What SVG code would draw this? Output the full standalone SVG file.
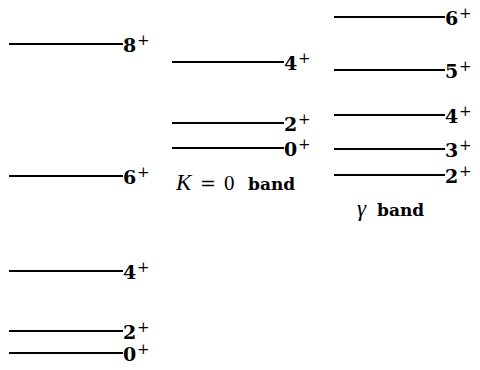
<svg xmlns="http://www.w3.org/2000/svg" width="480" height="370" viewBox="0 0 480 370">
<style>
.lvl{stroke:#000;stroke-width:2;fill:none}
.d{font-family:"DejaVu Serif","Liberation Serif",serif;font-weight:bold;font-size:19px;fill:#000}
.p{font-family:"DejaVu Serif",serif;font-size:15px;fill:#000}
.m{font-family:"Liberation Serif",serif;font-size:21px;fill:#000}
.eq{font-family:"DejaVu Serif",serif;font-size:19px;fill:#000}
.mi{font-family:"Liberation Serif",serif;font-style:italic;font-size:23px;fill:#000}
.b{font-family:"DejaVu Serif",serif;font-weight:bold;font-size:17px;fill:#000}
</style>
<rect width="480" height="370" fill="#fff"/>
<g id="connectors"></g>
<g id="ground-band">
  <g id="g8"><line class="lvl" x1="9" y1="44" x2="123" y2="44"/><text class="d" x="123" y="52">8</text><text class="p" x="137" y="45">+</text></g>
  <g id="g6"><line class="lvl" x1="9" y1="176" x2="123" y2="176"/><text class="d" x="123" y="184">6</text><text class="p" x="137" y="177">+</text></g>
  <g id="g4"><line class="lvl" x1="9" y1="271" x2="123" y2="271"/><text class="d" x="123" y="279">4</text><text class="p" x="137" y="272">+</text></g>
  <g id="g2"><line class="lvl" x1="9" y1="331" x2="123" y2="331"/><text class="d" x="123" y="339">2</text><text class="p" x="137" y="332">+</text></g>
  <g id="g0"><line class="lvl" x1="9" y1="353" x2="123" y2="353"/><text class="d" x="123" y="361">0</text><text class="p" x="137" y="354">+</text></g>
</g>
<g id="k0-band">
  <g id="k4"><line class="lvl" x1="172" y1="62" x2="284" y2="62"/><text class="d" x="284" y="70">4</text><text class="p" x="298" y="63">+</text></g>
  <g id="k2"><line class="lvl" x1="172" y1="123" x2="284" y2="123"/><text class="d" x="284" y="131">2</text><text class="p" x="298" y="124">+</text></g>
  <g id="k0"><line class="lvl" x1="172" y1="148" x2="284" y2="148"/><text class="d" x="284" y="156">0</text><text class="p" x="298" y="149">+</text></g>
  <g id="k-label"><text class="mi" x="176" y="190">K</text><text class="eq" x="200" y="190">=</text><text class="m" x="224" y="190">0</text><text class="b" x="248" y="190">band</text></g>
</g>
<g id="gamma-band">
  <g id="y6"><line class="lvl" x1="334" y1="17" x2="445" y2="17"/><text class="d" x="445" y="25">6</text><text class="p" x="459" y="18">+</text></g>
  <g id="y5"><line class="lvl" x1="334" y1="70" x2="445" y2="70"/><text class="d" x="445" y="78">5</text><text class="p" x="459" y="71">+</text></g>
  <g id="y4"><line class="lvl" x1="334" y1="115" x2="445" y2="115"/><text class="d" x="445" y="123">4</text><text class="p" x="459" y="116">+</text></g>
  <g id="y3"><line class="lvl" x1="334" y1="149" x2="445" y2="149"/><text class="d" x="445" y="157">3</text><text class="p" x="459" y="150">+</text></g>
  <g id="y2"><line class="lvl" x1="334" y1="175" x2="445" y2="175"/><text class="d" x="445" y="183">2</text><text class="p" x="459" y="176">+</text></g>
  <g id="y-label"><text class="mi" x="357" y="216">γ</text><text class="b" x="377" y="216">band</text></g>
</g>
</svg>
